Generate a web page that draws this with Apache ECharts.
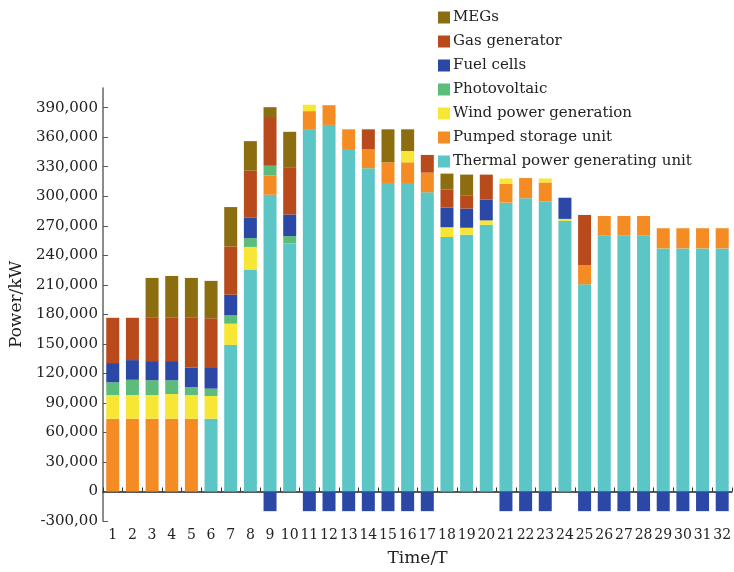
<!DOCTYPE html>
<html>
<head>
<meta charset="utf-8">
<script src="https://cdn.jsdelivr.net/npm/echarts@6/dist/echarts.min.js"></script>
<style>
  html, body { margin: 0; padding: 0; background: #fff; }
  #chart { width: 734px; height: 572px; }
</style>
</head>
<body>
<div id="chart"></div>
<script>
// Time periods 1..32
const periods = ['1','2','3','4','5','6','7','8','9','10','11','12','13','14','15','16',
                 '17','18','19','20','21','22','23','24','25','26','27','28','29','30','31','32'];

// Output of each unit type per period (kW)
const thermal = [0,0,0,0,0,74000,149000,225500,301500,252000,367500,372500,348000,328500,313500,313500,
                 304000,258500,261000,271000,293500,298000,294500,275000,210500,260000,260000,260000,247000,247000,247000,247000];
const pumped  = [74000,74000,74000,74000,74000,0,0,0,19500,0,19000,20000,20000,19500,21000,21000,
                 20000,0,0,0,19000,20500,19500,0,19500,20000,20000,20000,20500,20500,20500,20500];
const wind    = [24000,24000,24000,25000,24000,23000,21500,23000,0,0,6500,0,0,0,0,11500,
                 0,10000,7000,4500,5500,0,4000,2000,0,0,0,0,0,0,0,0];
const pv      = [13000,15500,15000,14000,8000,7500,8500,9000,10000,7500,0,0,0,0,0,0,
                 0,0,0,0,0,0,0,0,0,0,0,0,0,0,0,0];
const fuel    = [19500,20000,19500,19500,20000,21000,21000,21000,-20000,22000,-20000,-20000,-20000,-20000,-20000,-20000,
                 -20000,20000,19500,21000,-20000,-20000,-20000,21500,-20000,-20000,-20000,-20000,-20000,-20000,-20000,-20000];
const gas     = [46000,43000,44000,44500,50500,50500,49000,47500,49500,48000,0,0,0,20000,0,0,
                 18000,18500,13500,25500,0,0,0,0,51000,0,0,0,0,0,0,0];
const megs    = [0,0,40500,42000,40500,38000,40000,30000,10000,36000,0,0,0,0,33500,22000,
                 0,16000,21000,0,0,0,0,0,0,0,0,0,0,0,0,0];

// Y axis ticks
const yTicks = [-30000,0,30000,60000,90000,120000,150000,180000,210000,240000,270000,300000,330000,360000,390000];

const FONT = 'DejaVu Serif';

const layers = [
  { name: 'Thermal power generating unit', data: thermal, color: '#5cc5c5' },
  { name: 'Pumped storage unit',           data: pumped,  color: '#f58b23' },
  { name: 'Wind power generation',         data: wind,    color: '#f8e634' },
  { name: 'Photovoltaic',                  data: pv,      color: '#5cbd7b' },
  { name: 'Fuel cells',                    data: fuel,    color: '#2b48a6' },
  { name: 'Gas generator',                 data: gas,     color: '#b84a1b' },
  { name: 'MEGs',                          data: megs,    color: '#8c6d0f' }
];

const chart = echarts.init(document.getElementById('chart'), null, { renderer: 'canvas' });

chart.setOption({
  animation: false,
  backgroundColor: '#ffffff',
  grid: { left: 101, right: -3, top: 88, bottom: 47, containLabel: false },
  legend: {
    orient: 'vertical',
    left: 438,
    top: 10,
    padding: 0,
    itemWidth: 12,
    itemHeight: 12,
    itemGap: 9,
    icon: 'rect',
    data: layers.map(l => l.name).reverse(),
    textStyle: { fontFamily: FONT, fontSize: 15, lineHeight: 14, color: '#222', padding: [0, 0, 0, -2] }
  },
  xAxis: [
    {
      type: 'category',
      data: periods,
      axisLine: { onZero: true, lineStyle: { color: '#222', width: 1.5 } },
      axisTick: { show: true, inside: true, length: 4, lineStyle: { color: '#333' } },
      axisLabel: { show: false },
      splitLine: { show: false }
    },
    {
      type: 'category',
      data: periods,
      position: 'bottom',
      axisLine: { show: false, onZero: false },
      axisTick: { show: false },
      axisLabel: { fontFamily: FONT, fontSize: 14, color: '#222', margin: 7, interval: 0, hideOverlap: false },
      name: 'Time/T',
      nameLocation: 'middle',
      nameGap: 29,
      nameTextStyle: { fontFamily: FONT, fontSize: 17, color: '#222' }
    }
  ],
  yAxis: {
    type: 'value',
    min: -30000,
    max: 410000,
    interval: 30000,
    axisLine: { show: true, onZero: false, lineStyle: { color: '#666', width: 1.5 } },
    axisTick: { show: true, inside: true, length: 5, lineStyle: { color: '#555' }, customValues: yTicks },
    axisLabel: {
      fontFamily: FONT, fontSize: 15, color: '#222', margin: 5,
      customValues: yTicks,
      formatter: v => v < 0 ? '-300,00' : v.toLocaleString('en-US')
    },
    splitLine: { show: false },
    name: 'Power/kW',
    nameLocation: 'middle',
    nameGap: 67,
    nameTextStyle: { fontFamily: FONT, fontSize: 17, color: '#222' }
  },
  series: layers.map(l => ({
    name: l.name,
    type: 'bar',
    stack: 'total',
    xAxisIndex: 0,
    barWidth: 13,
    data: l.data,
    itemStyle: { color: l.color }
  }))
});
</script>
</body>
</html>
